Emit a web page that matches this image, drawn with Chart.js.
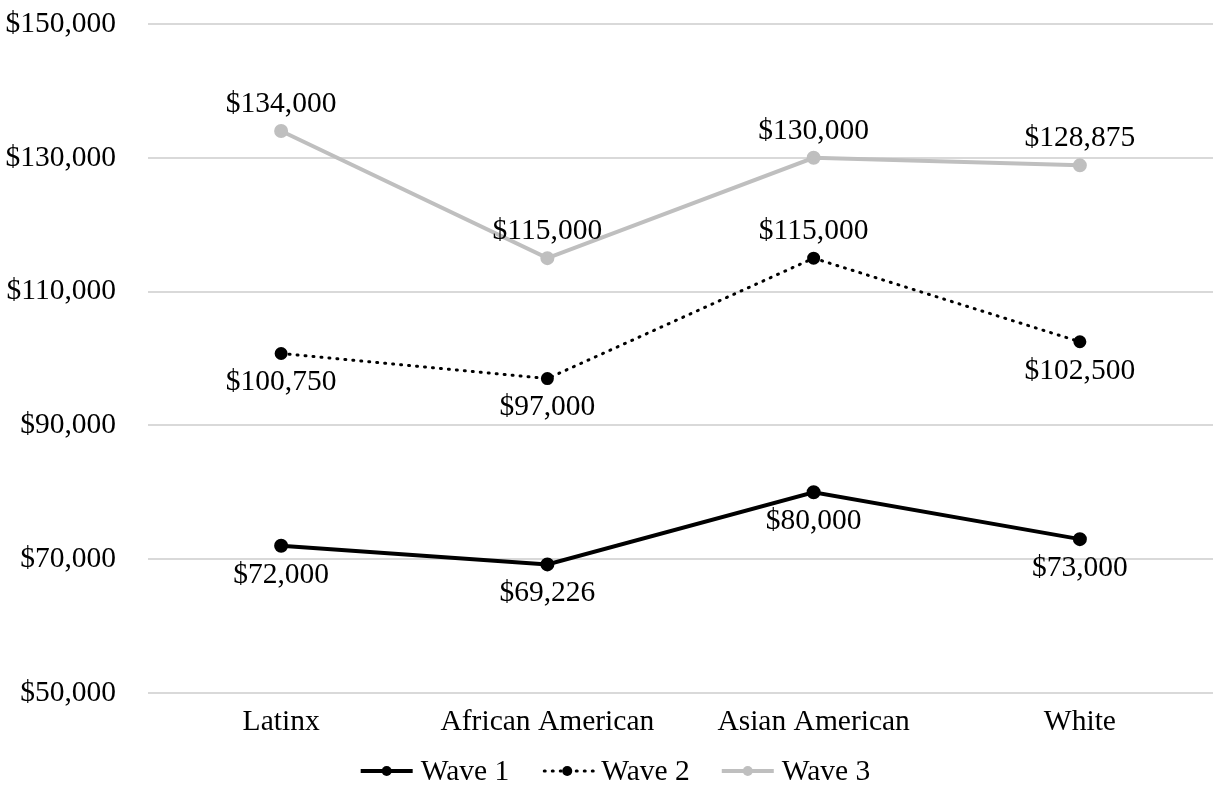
<!DOCTYPE html>
<html>
<head>
<meta charset="utf-8">
<script src="https://cdn.jsdelivr.net/npm/chart.js@4.4.1/dist/chart.umd.min.js"></script>
<style>
    html, body { margin: 0; padding: 0; background: #ffffff; }
    #wadah { width: 1215px; height: 787px; }
</style>
</head>
<body>
<div id="wadah"><canvas id="grafikWave"></canvas></div>
<script>
// =====================================================
// DATA
// =====================================================
const kategori = ['Latinx', 'African American', 'Asian American', 'White'];
const wave1 = [72000, 69226, 80000, 73000];
const wave2 = [100750, 97000, 115000, 102500];
const wave3 = [134000, 115000, 130000, 128875];
const tickMin = 50000;
const tickMax = 150000;
const tickStep = 20000;

// letak label tiap titik (atas / bawah)
const letakWave1 = ['bawah', 'bawah', 'bawah', 'bawah'];
const letakWave2 = ['bawah', 'bawah', 'atas', 'bawah'];
const letakWave3 = ['atas', 'atas', 'atas', 'atas'];

const HURUF = "'Liberation Serif', 'Times New Roman', serif";
const UKURAN = 29.5;

function formatDolar(angka) {
    return '$' + angka.toLocaleString('en-US');
}

// =====================================================
// PLUGIN LABEL NILAI
// =====================================================
const labelNilai = {
    id: 'labelNilai',
    afterDatasetsDraw(chart) {
        const ctx = chart.ctx;
        ctx.save();
        ctx.font = UKURAN + 'px ' + HURUF;
        ctx.fillStyle = '#000000';
        ctx.textAlign = 'center';
        ctx.textBaseline = 'middle';
        chart.data.datasets.forEach((ds, i) => {
            const meta = chart.getDatasetMeta(i);
            meta.data.forEach((titik, j) => {
                const dy = ds.letak[j] === 'atas' ? -27 : 29;
                ctx.fillText(formatDolar(ds.data[j]), titik.x, titik.y + dy);
            });
        });
        ctx.restore();
    }
};

// =====================================================
// PLUGIN LEGENDA (garis + titik, di bawah sumbu X)
// =====================================================
const legendaBawah = {
    id: 'legendaBawah',
    afterDraw(chart) {
        const ctx = chart.ctx;
        const panjangGaris = 52;
        const jarakTeks = 8;
        const jarakItem = 32;
        const y = chart.chartArea.bottom + 78;

        ctx.save();
        ctx.font = UKURAN + 'px ' + HURUF;
        ctx.textBaseline = 'middle';
        ctx.textAlign = 'left';

        const item = chart.data.datasets.map(ds => ({
            ds: ds,
            lebar: panjangGaris + jarakTeks + ctx.measureText(ds.label).width
        }));
        const total = item.reduce((s, it) => s + it.lebar, 0) + jarakItem * (item.length - 1);
        let x = (chart.width - total) / 2 + 8;

        item.forEach(it => {
            const ds = it.ds;
            ctx.strokeStyle = ds.borderColor;
            ctx.fillStyle = ds.borderColor;
            ctx.lineWidth = ds.borderWidth;
            if (ds.borderDash) {
                ctx.setLineDash(ds.borderDash);
                ctx.lineCap = 'round';
            } else {
                ctx.setLineDash([]);
                ctx.lineCap = 'butt';
            }
            ctx.beginPath();
            ctx.moveTo(x + (ds.borderDash ? 3 : 0), y);
            ctx.lineTo(x + panjangGaris, y);
            ctx.stroke();
            ctx.setLineDash([]);
            ctx.beginPath();
            ctx.arc(x + panjangGaris / 2, y, 5, 0, Math.PI * 2);
            ctx.fill();

            ctx.fillStyle = '#000000';
            ctx.fillText(ds.label, x + panjangGaris + jarakTeks, y + 1);
            x += it.lebar + jarakItem;
        });
        ctx.restore();
    }
};

// =====================================================
// GRAFIK
// =====================================================
const ctx = document.getElementById('grafikWave').getContext('2d');

new Chart(ctx, {
    type: 'line',
    data: {
        labels: kategori,
        datasets: [
            {
                label: 'Wave 1',
                data: wave1,
                letak: letakWave1,
                borderColor: '#000000',
                backgroundColor: '#000000',
                borderWidth: 4,
                pointRadius: 5,
                pointHoverRadius: 5,
                tension: 0
            },
            {
                label: 'Wave 2',
                data: wave2,
                letak: letakWave2,
                borderColor: '#000000',
                backgroundColor: '#000000',
                borderWidth: 3,
                borderDash: [1, 7],
                borderCapStyle: 'round',
                pointRadius: 5,
                pointHoverRadius: 5,
                tension: 0
            },
            {
                label: 'Wave 3',
                data: wave3,
                letak: letakWave3,
                borderColor: '#bfbfbf',
                backgroundColor: '#bfbfbf',
                borderWidth: 4,
                pointRadius: 5,
                pointHoverRadius: 5,
                tension: 0
            }
        ]
    },
    options: {
        responsive: true,
        maintainAspectRatio: false,
        animation: false,
        layout: {
            autoPadding: false,
            padding: { top: 24, right: 2, bottom: 44, left: 0 }
        },
        plugins: {
            legend: { display: false },
            tooltip: { enabled: false }
        },
        scales: {
            x: {
                offset: true,
                grid: { display: false },
                border: { display: false },
                afterFit(skala) {
                    skala.paddingLeft = 0;
                    skala.paddingRight = 0;
                    skala.height = 50;
                },
                ticks: {
                    color: '#000000',
                    padding: 4,
                    font: { family: HURUF, size: UKURAN }
                }
            },
            y: {
                min: tickMin,
                max: tickMax,
                grid: {
                    color: '#d9d9d9',
                    lineWidth: 2,
                    drawTicks: false
                },
                border: { display: false },
                afterFit(skala) {
                    skala.width = 148;
                    skala.paddingTop = 0;
                    skala.paddingBottom = 0;
                },
                ticks: {
                    stepSize: tickStep,
                    padding: 32,
                    color: '#000000',
                    font: { family: HURUF, size: UKURAN },
                    callback: v => formatDolar(v)
                }
            }
        }
    },
    plugins: [labelNilai, legendaBawah]
});
</script>
</body>
</html>
